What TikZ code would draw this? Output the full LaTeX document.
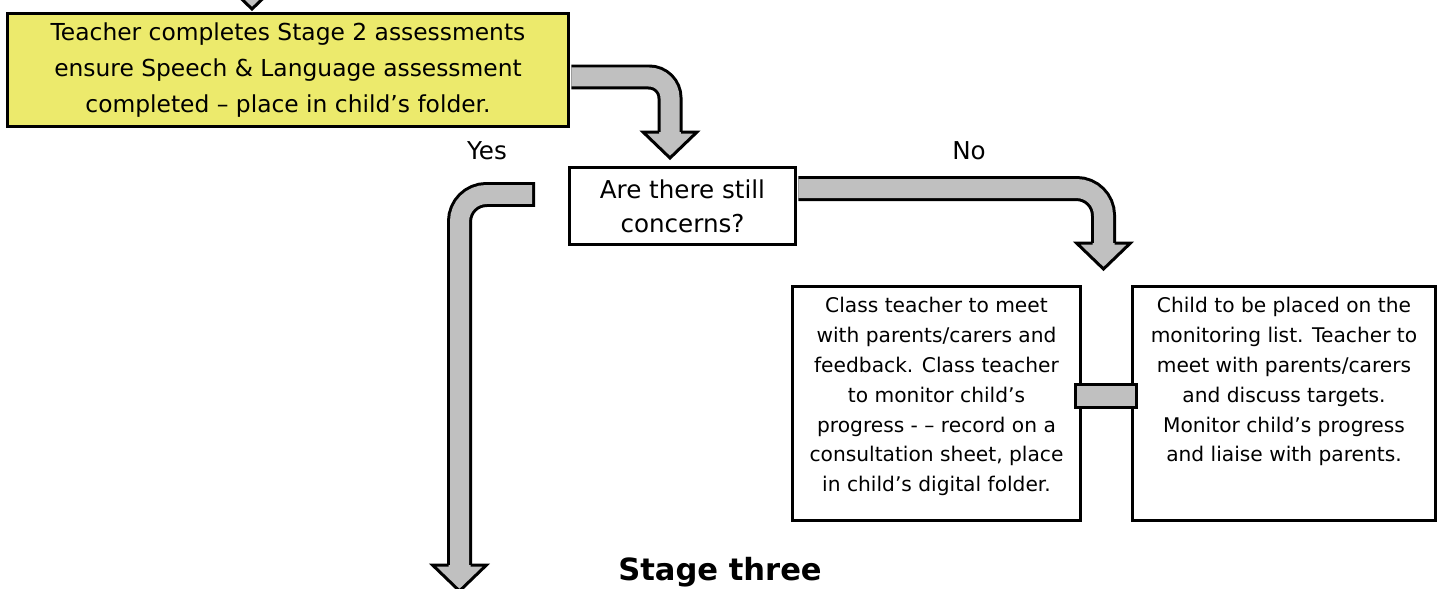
\documentclass[tikz,border=0pt]{standalone}
\usepackage{fontspec}
\setmainfont{DejaVu Sans}
\definecolor{notefill}{RGB}{236,234,108}
\definecolor{shaft}{RGB}{192,192,192}
\tikzset{
 box/.style={draw, line width=0.06cm, inner sep=0pt},
 bandout/.style={line width=0.5cm, draw=black},
 bandin/.style={line width=0.38cm, draw=shaft},
 pics/headdown/.style={code={
  \fill[shaft] (-27,0) -- (0,26) -- (27,0) -- cycle;
  \draw[line width=0.06cm] (-11,0) -- (-27,0) -- (0,26) -- (27,0) -- (11,0);
 }},
}
\begin{document}
\begin{tikzpicture}[x=0.02cm, y=-0.02cm]
 \useasboundingbox (0,0) rectangle (1439,588);
 %
 \node[box, fill=notefill, minimum width=11.22cm, minimum height=2.28cm, align=center,
  font=\fontsize{13.3}{20.5}\selectfont] (stagetwo) at (288,70)
  {Teacher completes Stage 2 assessments\\ensure Speech \& Language assessment\\completed – place in child’s folder.};
 \node[box, minimum width=4.52cm, minimum height=1.54cm, align=center,
  font=\fontsize{14}{19.5}\selectfont] (concerns) at (682.5,206) {Are there still\\concerns?};
 \node[box, minimum width=5.76cm, minimum height=4.68cm] (feedback) at (936.5,403.5) {};
 \node[box, minimum width=6.06cm, minimum height=4.68cm] (monitor) at (1284,403.5) {};
 %
 \node[anchor=north, align=center, font=\fontsize{11.5}{17}\selectfont] (feedbacktext) at (feedback.north |- 0,291)
  {Class teacher to meet\\with parents/carers and\\feedback. Class teacher\\to monitor child’s\\progress - – record on a\\consultation sheet, place\\in child’s digital folder.};
 \node[anchor=north, align=center, font=\fontsize{11.5}{17}\selectfont] (monitortext) at (monitor.north |- 0,291)
  {Child to be placed on the\\monitoring list. Teacher to\\meet with parents/carers\\and discuss targets.\\Monitor child’s progress\\and liaise with parents.};
 %
 \node[font=\fontsize{14}{16}\selectfont] (yes) at (487,151) {Yes};
 \node[font=\fontsize{14}{16}\selectfont] (no) at (969,151) {No};
 \node[anchor=base, font=\bfseries\fontsize{17.4}{20}\selectfont] (stagethree) at (720,580) {Stage three};
 %
 \coordinate (intop) at (252,-17);
 \coordinate (oneend) at (670,132);
 \coordinate (yesstart) at (535,194.5);
 \coordinate (yesend) at (459.5,565);
 \coordinate (noend) at (1103.5,243);
 %
 \pic at (intop) {headdown};
 %
 \draw[bandout, rounded corners=0.42cm, shorten <=0.03cm] ([yshift=-0.14cm]stagetwo.east) -| (oneend);
 \draw[bandin, rounded corners=0.42cm, shorten <=0.03cm] ([yshift=-0.14cm]stagetwo.east) -| (oneend);
 \pic at (oneend) {headdown};
 %
 \draw[bandout, rounded corners=0.54cm] (yesstart) -| (yesend);
 \draw[bandin, rounded corners=0.54cm, shorten <=0.06cm] (yesstart) -| (yesend);
 \pic at (yesend) {headdown};
 %
 \draw[bandout, rounded corners=0.54cm, shorten <=0.03cm] ([yshift=0.35cm]concerns.east) -| (noend);
 \draw[bandin, rounded corners=0.54cm, shorten <=0.03cm] ([yshift=0.35cm]concerns.east) -| (noend);
 \pic at (noend) {headdown};
 %
 \draw[box, fill=shaft] ([xshift=-0.12cm, yshift=0.38cm]feedback.east) rectangle ([xshift=0.1cm, yshift=-0.08cm]monitor.west);
\end{tikzpicture}
\end{document}
